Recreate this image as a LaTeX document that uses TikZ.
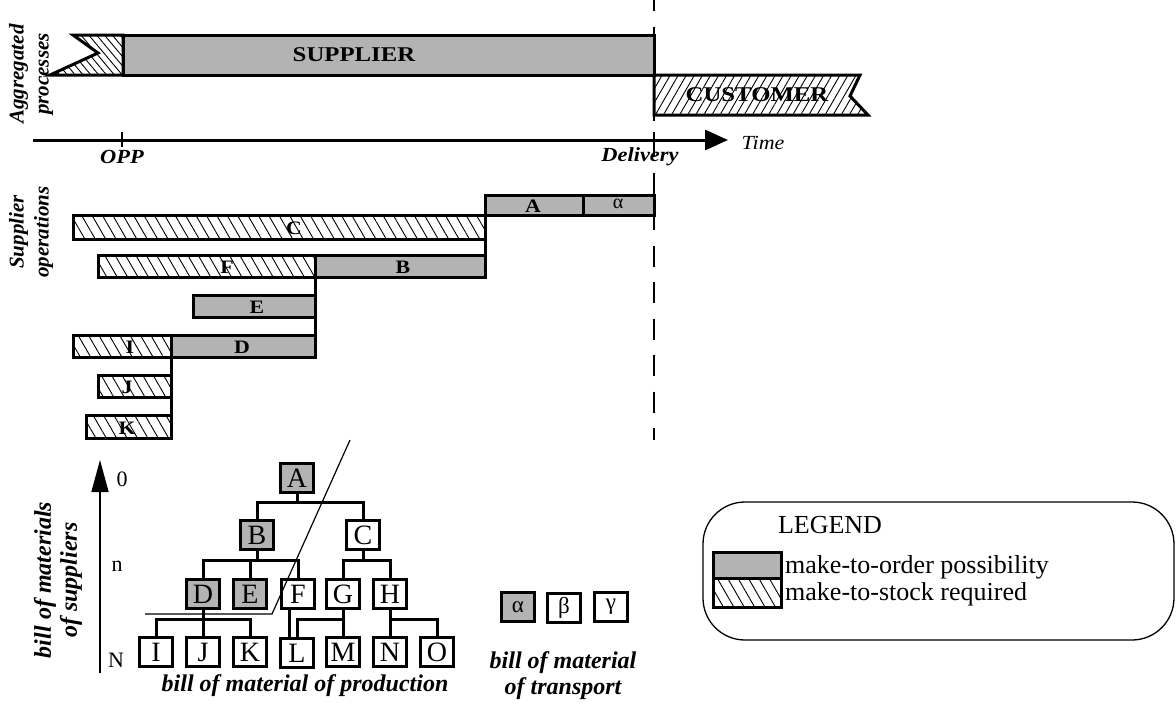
\documentclass[tikz,border=0pt]{standalone}
\usepackage{fontspec}
\setmainfont{Liberation Serif}
\usetikzlibrary{arrows.meta,patterns.meta,calc}
\definecolor{boxgray}{RGB}{179,179,179}
\begin{document}
\begin{tikzpicture}[x=1pt,y=-1pt,
  thickline/.style={line width=3pt},
  conn/.style={line width=3pt},
  gbox/.style={draw, line width=3pt, fill=boxgray, rectangle, inner sep=0pt, outer sep=0pt},
  hbox/.style={draw, line width=3pt, rectangle, inner sep=0pt, outer sep=0pt,
     pattern={Lines[angle=-60,distance=9pt,line width=0.9pt]}},
  barlab/.style={font=\fontsize{19}{20}\selectfont\bfseries, xscale=1.15, inner sep=0pt},
  biglab/.style={font=\fontsize{21}{25}\selectfont\bfseries, xscale=1.18, inner sep=0pt},
  itlab/.style={font=\fontsize{20}{24}\selectfont\bfseries\itshape, xscale=1.12, inner sep=0pt},
  sidelab/.style={font=\fontsize{21}{25}\selectfont\bfseries\itshape, rotate=90, align=center, inner sep=0pt},
  bomlab/.style={font=\fontsize{24}{26}\selectfont\bfseries\itshape, align=center, inner sep=0pt},
  tbox/.style={draw, line width=3pt, rectangle, inner sep=0pt, outer sep=0pt,
     minimum width=33pt, minimum height=29pt, font=\fontsize{28}{28}\selectfont},
  tgbox/.style={tbox, fill=boxgray},
  gkbox/.style={tbox, font=\fontsize{23}{23}\selectfont},
  lvl/.style={font=\fontsize{22}{22}\selectfont, inner sep=0pt},
  legtext/.style={font=\fontsize{26}{28}\selectfont, inner sep=0pt}
]
\useasboundingbox (0,0) rectangle (1176,704);

% dashed delivery line
\coordinate (dl1) at (654,0);
\coordinate (dl2) at (654,440);
\draw[line width=2.5pt, dash pattern=on 21pt off 15.5pt, dash phase=10pt] (dl1) -- (dl2);

% aggregated processes
\node[sidelab] (aggr) at (31,74) {Aggregated\\processes};
\draw[thickline, line join=miter, pattern={Lines[angle=-50,distance=6pt,line width=0.9pt]}]
  (73,35) -- (123,35) -- (123,75) -- (50,75) -- (98,53) -- cycle;
\node[gbox, anchor=north west, minimum width=531pt, minimum height=40pt] (sup) at (123,35) {};
\node[biglab] (supl) at (354,55) {SUPPLIER};
\draw[thickline, line join=miter, pattern={Lines[angle=60,distance=7pt,line width=0.9pt]}]
  (654,75) -- (860,75) -- (850,96) -- (868,115) -- (654,115) -- cycle;
\node[biglab] (cusl) at (757,95) {CUSTOMER};

% time axis
\coordinate (ax0) at (33,140);
\coordinate (ax1) at (728,140);
\draw[line width=3pt, -{Triangle[length=23pt,width=20pt]}] (ax0) -- (ax1);
\coordinate (opp1) at (122,132);
\coordinate (opp2) at (122,147);
\draw[line width=2pt] (opp1) -- (opp2);
\coordinate (del1) at (654,132);
\coordinate (del2) at (654,149);
\draw[line width=2.5pt] (del1) -- (del2);
\node[itlab] (opp) at (122,157) {OPP};
\node[itlab] (deliv) at (640,157) {Delivery};
\node[font=\fontsize{20}{24}\selectfont\itshape, xscale=1.1, inner sep=0pt] (time) at (763,143) {Time};

% supplier operations
\node[sidelab] (supop) at (31,232) {Supplier\\operations};
\node[gbox, anchor=north west, minimum width=98pt, minimum height=20pt] (opA) at (485,195) {};
\node[gbox, anchor=north west, minimum width=71pt, minimum height=20pt] (opAl) at (583,195) {};
\node[hbox, anchor=north west, minimum width=412pt, minimum height=24pt] (opC) at (73,215) {};
\node[hbox, anchor=north west, minimum width=217pt, minimum height=22pt] (opF) at (98,255) {};
\node[gbox, anchor=north west, minimum width=170pt, minimum height=22pt] (opB) at (315,255) {};
\node[gbox, anchor=north west, minimum width=122pt, minimum height=22pt] (opE) at (193,295) {};
\node[hbox, anchor=north west, minimum width=98pt, minimum height=22pt] (opI) at (73,335) {};
\node[gbox, anchor=north west, minimum width=144pt, minimum height=22pt] (opD) at (171,335) {};
\node[hbox, anchor=north west, minimum width=73pt, minimum height=22pt] (opJ) at (98,375) {};
\node[hbox, anchor=north west, minimum width=85pt, minimum height=23pt] (opK) at (86,415) {};
\draw[conn] (opA.south west) -- (opB.south east);
\draw[conn] (opB.north west) -- (opD.south east);
\draw[conn] (opD.north west) -- (opK.south east);

\node[barlab] (lA) at (533,206) {A};
\node[font=\fontsize{20}{20}\selectfont, inner sep=0pt] (lAl) at (618,204) {α};
\node[barlab] (lC) at (294,228) {C};
\node[barlab] (lF) at (227,267) {F};
\node[barlab] (lB) at (403,267) {B};
\node[barlab] (lE) at (257,307) {E};
\node[barlab] (lI) at (130,347) {I};
\node[barlab] (lD) at (242,347) {D};
\node[barlab] (lJ) at (127,387) {J};
\node[barlab] (lK) at (127,428) {K};

% bill of materials axis
\node[bomlab, rotate=90] (bomsup) at (58,580) {bill of materials\\of suppliers};
\coordinate (ba0) at (100,673);
\coordinate (ba1) at (100,460);
\draw[line width=1.5pt, -{Triangle[length=32pt,width=17pt]}] (ba0) -- (ba1);
\node[lvl] (lv0) at (122,479) {0};
\node[lvl] (lvn) at (117,566) {n};
\node[lvl] (lvN) at (116,660) {N};

% tree
\node[tgbox] (tA) at (297,478) {A};
\node[tgbox] (tB) at (257,535) {B};
\node[tbox]  (tC) at (363,535) {C};
\node[tgbox] (tD) at (203,594) {D};
\node[tgbox] (tE) at (250,594) {E};
\node[tbox]  (tF) at (298,594) {F};
\node[tbox]  (tG) at (343,594) {G};
\node[tbox]  (tH) at (390,594) {H};
\node[tbox]  (tI) at (156,652) {I};
\node[tbox]  (tJ) at (203,652) {J};
\node[tbox]  (tK) at (250,652) {K};
\node[tbox]  (tL) at (297,653) {L};
\node[tbox]  (tM) at (343,652) {M};
\node[tbox]  (tN) at (390,652) {N};
\node[tbox]  (tO) at (437,652) {O};

\draw[conn] (tA.south) -- ++(0,10) coordinate (busA);
\draw[conn] (tB.north) |- (busA) -| (tC.north);
\draw[conn] (tB.south) -- ++(0,11) coordinate (busB);
\draw[conn] (tD.north) |- (busB) -| (tF.north);
\draw[conn] (tE.north) -- (tE.north |- busB);
\draw[conn] (tC.south) -- ++(0,11) coordinate (busC);
\draw[conn] (tG.north) |- (busC) -| (tH.north);
\draw[conn] (tD.south) -- ++(0,11) coordinate (busD);
\draw[conn] (tI.north) |- (busD) -| (tK.north);
\draw[conn] (tJ.north) -- (tJ.north |- busD);
\draw[conn] (tG.south) -- ++(0,11) coordinate (busG);
\draw[conn] (tL.north) |- (busG) -| (tM.north);
\draw[conn] (tH.south) -- ++(0,11) coordinate (busH);
\draw[conn] (tN.north) |- (busH) -| (tO.north);
\draw[conn] ($(tF.south)+(-9,0)$) -- ($(tL.north)+(-8,0)$);

% dividing thin line
\coordinate (dg1) at (350,440);
\coordinate (dg2) at (272,614);
\coordinate (dg3) at (145,614);
\draw[line width=1.2pt] (dg1) -- (dg2) -- (dg3);

\node[bomlab] (bomprod) at (305,686) {bill of material of production};

% transport
\node[gkbox, fill=boxgray] (tral) at (518,607) {α};
\node[gkbox] (trbe) at (564,608) {β};
\node[gkbox] (trga) at (611,607) {γ};
\node[bomlab] (bomtr) at (563,676) {bill of material\\of transport};

% legend
\node[draw, line width=1.3pt, rounded corners=42pt, anchor=north west, minimum width=471pt,
      minimum height=138pt, outer sep=0pt, inner sep=0pt] (leg) at (703,502) {};
\node[legtext, anchor=base] (legt) at (830,533) {LEGEND};
\node[gbox, anchor=north west, minimum width=68pt, minimum height=26pt] (lgg) at (713,552) {};
\node[hbox, anchor=north west, minimum width=68pt, minimum height=29pt] (lgh) at (713,578) {};
\node[legtext, anchor=base west] (lg1) at (785,573) {make-to-order possibility};
\node[legtext, anchor=base west] (lg2) at (785,600) {make-to-stock required};
\end{tikzpicture}
\end{document}
